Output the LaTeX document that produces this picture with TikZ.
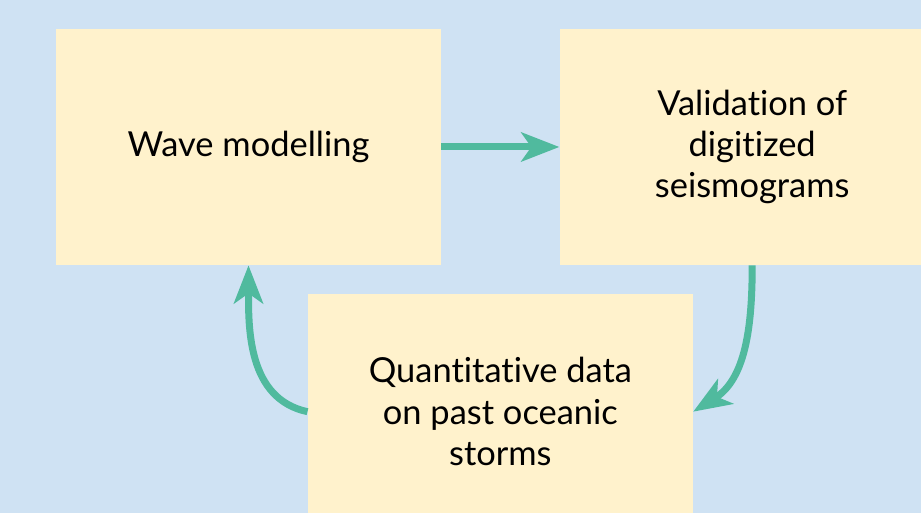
\documentclass[tikz,border=0pt]{standalone}
\usepackage{fontspec}
\setmainfont{Lato}[Ligatures=CommonOff]
\usetikzlibrary{arrows.meta,positioning,calc}
\definecolor{stormBlue}{RGB}{207, 226, 243}
\definecolor{stormYellow}{RGB}{255, 242, 204}
\definecolor{stormTeal}{RGB}{80, 186, 158}

\begin{document}
\begin{tikzpicture}[
  stage/.style={
    fill=stormYellow,
    minimum width=7.7cm,
    minimum height=4.72cm,
    align=center,
    font=\fontsize{19.6}{23.5}\selectfont
  },
  arrow/.style={-{Stealth[length=0.76cm,width=0.58cm,inset=0.2cm]},line width=0.14cm,stormTeal}
]
  \clip (0,0) rectangle (18.42,10.26);
  \fill[stormBlue] (0,0) rectangle (18.42,10.26);
  \node[stage] (wave) at (4.97,7.32) {Wave modelling};
  \node[stage,right=2.36cm of wave] (valid) {Validation of\\digitized\\seismograms};
  \node[stage,below=0.56cm] (data) at ($(wave.south)!0.5!(valid.south)$) {Quantitative data\\on past oceanic\\storms};
  \draw[arrow] (wave) -- (valid);
  \draw[arrow] (valid.south) to[out=-90,in=32] (data.east);
  \draw[arrow] (data.west) to[out=168,in=-90] (wave.south);
\end{tikzpicture}
\end{document}
